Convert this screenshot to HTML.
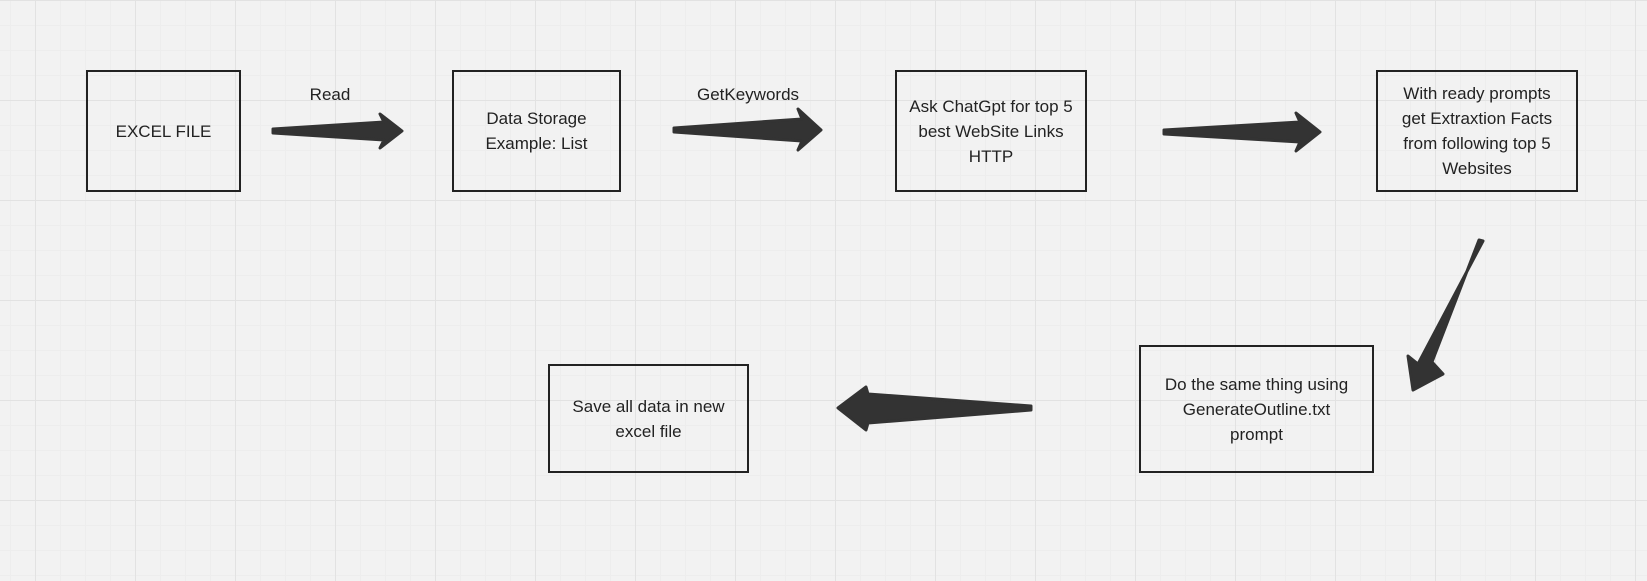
<!DOCTYPE html>
<html><head><meta charset="utf-8"><style>
html,body{margin:0;padding:0}
body{width:1647px;height:581px;overflow:hidden;position:relative;background:#f2f2f2;font-family:"Liberation Sans",sans-serif;
background-image:
linear-gradient(to right,#e2e2e2 1px,transparent 1px),
linear-gradient(to bottom,#e2e2e2 1px,transparent 1px),
linear-gradient(to right,#ededed 1px,transparent 1px),
linear-gradient(to bottom,#ededed 1px,transparent 1px);
background-size:100px 100px,100px 100px,25px 25px,25px 25px;
background-position:35px 0,0 0,10px 0,0 0;}
.b{position:absolute;border:2px solid #222;box-sizing:border-box;display:flex;align-items:center;justify-content:center;text-align:center;font-size:17px;line-height:25px;color:#222}
.l{position:absolute;font-size:17px;color:#222;transform:translate(-50%,-50%)}
svg{position:absolute;left:0;top:0}
</style></head><body>
<div class="b" style="left:86px;top:70px;width:155px;height:122px">EXCEL FILE</div>
<div class="b" style="left:452px;top:70px;width:169px;height:122px">Data Storage<br>Example: List</div>
<div class="b" style="left:895px;top:70px;width:192px;height:122px">Ask ChatGpt for top 5<br>best WebSite Links<br>HTTP</div>
<div class="b" style="left:1376px;top:70px;width:202px;height:122px">With ready prompts<br>get Extraxtion Facts<br>from following top 5<br>Websites</div>
<div class="b" style="left:1139px;top:345px;width:235px;height:128px">Do the same thing using<br>GenerateOutline.txt<br>prompt</div>
<div class="b" style="left:548px;top:364px;width:201px;height:109px">Save all data in new<br>excel file</div>
<div class="l" style="left:330px;top:95px">Read</div>
<div class="l" style="left:748px;top:95px">GetKeywords</div>
<svg width="1647" height="581">
<g fill="#333" stroke="#333" stroke-width="3" stroke-linejoin="round">
<polygon points="273,129 384,122 380,114 402,131 380,148 384,140 273,133"/>
<polygon points="674,128 802,119 798,109 821,130 798,150 802,141 674,132"/>
<polygon points="1164,130 1300,122 1296,113 1320,132 1296,151 1300,142 1164,134"/>
<polygon points="1031,406 868,394 866,387 838,408 866,430 868,423 1031,410"/>
<polygon points="1479,240 1432,362 1443,374 1413,390 1408,356 1418,364 1483,241"/>
</g>
</svg>
</body></html>
